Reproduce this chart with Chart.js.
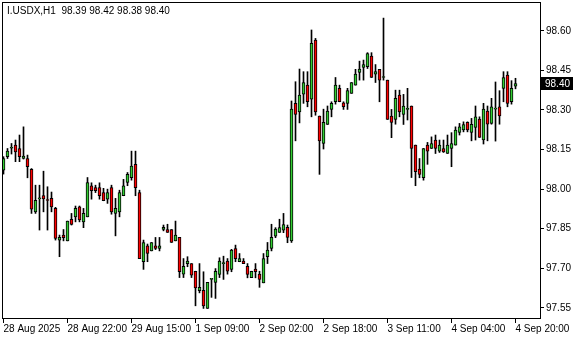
<!DOCTYPE html>
<html>
<head>
<meta charset="utf-8">
<script src="https://cdn.jsdelivr.net/npm/chart.js@4.4.1/dist/chart.umd.min.js"></script>
<style>
  html, body { margin: 0; padding: 0; background: #fff; }
  #wrap { width: 580px; height: 340px; }
</style>
</head>
<body>
<div id="wrap"><canvas id="chart" width="580" height="340"></canvas></div>
<script>
// I.USDX H1 bars, 28 Aug 2025 -> 4 Sep 20:00
const symbolTitle = 'I.USDX,H1';
const tickLabels = ['28 Aug 2025', '28 Aug 22:00', '29 Aug 15:00', '1 Sep 09:00', '2 Sep 02:00',
                    '2 Sep 18:00', '3 Sep 11:00', '4 Sep 04:00', '4 Sep 20:00'];
const tickEvery = 16;
const yTicks = [97.55, 97.70, 97.85, 98.00, 98.15, 98.30, 98.45, 98.60];

const opens = [
  98.072, 98.123, 98.155, 98.167, 98.154, 98.116, 98.116, 98.075, 97.914, 97.963,
  97.976, 97.958, 97.965, 97.927, 97.807, 97.826, 97.804, 97.886, 97.895, 97.933,
  97.876, 97.895, 98.013, 98.006, 98.006, 97.987, 97.962, 98.006, 97.908, 97.914,
  97.975, 98.025, 98.043, 98.094, 97.987, 97.725, 97.785, 97.766, 97.785, 97.775,
  97.847, 97.847, 97.847, 97.804, 97.817, 97.678, 97.718, 97.718, 97.689, 97.615,
  97.617, 97.548, 97.658, 97.647, 97.677, 97.718, 97.727, 97.696, 97.775, 97.725,
  97.727, 97.708, 97.665, 97.697, 97.678, 97.645, 97.744, 97.775, 97.822, 97.836,
  97.845, 97.855, 97.804, 98.325, 98.293, 98.360, 98.394, 98.341, 98.565, 98.277,
  98.173, 98.245, 98.302, 98.331, 98.382, 98.327, 98.325, 98.363, 98.394, 98.442,
  98.461, 98.464, 98.504, 98.436, 98.454, 98.423, 98.413, 98.277, 98.264, 98.356,
  98.283, 98.302, 98.315, 98.167, 98.076, 98.043, 98.167, 98.154, 98.186, 98.144,
  98.154, 98.135, 98.154, 98.167, 98.215, 98.224, 98.253, 98.215, 98.234, 98.265,
  98.186, 98.296, 98.249, 98.303, 98.312, 98.382, 98.432, 98.331, 98.390
];
const highs = [
  98.123, 98.154, 98.173, 98.186, 98.205, 98.236, 98.129, 98.078, 98.015, 98.015,
  98.068, 98.009, 97.989, 97.931, 97.826, 97.847, 97.879, 97.908, 97.936, 97.936,
  97.927, 98.044, 98.024, 98.015, 98.024, 98.003, 98.000, 98.015, 97.965, 97.996,
  98.037, 98.063, 98.144, 98.144, 97.996, 97.807, 97.792, 97.798, 97.817, 97.817,
  97.864, 97.867, 97.847, 97.879, 97.817, 97.737, 97.744, 97.718, 97.689, 97.718,
  97.687, 97.647, 97.659, 97.699, 97.740, 97.746, 97.737, 97.772, 97.788, 97.756,
  97.737, 97.718, 97.689, 97.718, 97.689, 97.756, 97.798, 97.867, 97.854, 97.886,
  97.908, 97.864, 98.334, 98.407, 98.455, 98.445, 98.445, 98.603, 98.571, 98.277,
  98.303, 98.315, 98.331, 98.423, 98.394, 98.331, 98.382, 98.404, 98.454, 98.485,
  98.489, 98.517, 98.517, 98.472, 98.454, 98.648, 98.413, 98.302, 98.375, 98.375,
  98.359, 98.382, 98.315, 98.167, 98.116, 98.154, 98.177, 98.198, 98.205, 98.186,
  98.186, 98.205, 98.214, 98.236, 98.249, 98.255, 98.255, 98.268, 98.315, 98.274,
  98.325, 98.315, 98.344, 98.406, 98.373, 98.445, 98.445, 98.411, 98.420
];
const lows = [
  98.057, 98.116, 98.133, 98.104, 98.104, 98.114, 98.043, 97.908, 97.908, 97.845,
  97.914, 97.845, 97.914, 97.807, 97.744, 97.804, 97.804, 97.864, 97.876, 97.876,
  97.854, 97.895, 97.962, 97.987, 97.962, 97.956, 97.946, 97.905, 97.823, 97.895,
  97.975, 98.013, 98.034, 97.975, 97.737, 97.696, 97.725, 97.766, 97.771, 97.766,
  97.842, 97.836, 97.798, 97.804, 97.665, 97.665, 97.706, 97.665, 97.558, 97.607,
  97.548, 97.548, 97.590, 97.586, 97.665, 97.658, 97.678, 97.687, 97.725, 97.725,
  97.718, 97.664, 97.665, 97.664, 97.628, 97.645, 97.718, 97.766, 97.816, 97.836,
  97.835, 97.797, 97.798, 98.183, 98.251, 98.325, 98.312, 98.274, 98.280, 98.056,
  98.152, 98.245, 98.274, 98.322, 98.331, 98.302, 98.302, 98.363, 98.394, 98.413,
  98.413, 98.457, 98.423, 98.404, 98.331, 98.413, 98.264, 98.195, 98.246, 98.274,
  98.245, 98.262, 98.044, 98.013, 98.043, 98.034, 98.094, 98.154, 98.135, 98.139,
  98.139, 98.135, 98.085, 98.167, 98.205, 98.217, 98.217, 98.183, 98.186, 98.196,
  98.171, 98.183, 98.246, 98.182, 98.246, 98.331, 98.312, 98.322, 98.380
];
const closes = [
  98.116, 98.144, 98.158, 98.141, 98.123, 98.125, 98.085, 97.924, 97.958, 97.966,
  97.963, 97.957, 97.933, 97.813, 97.817, 97.816, 97.879, 97.866, 97.927, 97.883,
  97.908, 98.025, 97.994, 97.994, 97.975, 97.956, 97.987, 97.914, 97.927, 97.987,
  98.013, 98.056, 98.087, 98.006, 97.737, 97.798, 97.756, 97.798, 97.775, 97.785,
  97.855, 97.836, 97.798, 97.826, 97.687, 97.708, 97.727, 97.674, 97.626, 97.628,
  97.558, 97.647, 97.658, 97.689, 97.727, 97.718, 97.689, 97.769, 97.737, 97.737,
  97.718, 97.677, 97.689, 97.687, 97.658, 97.737, 97.769, 97.817, 97.849, 97.854,
  97.866, 97.817, 98.303, 98.283, 98.356, 98.404, 98.331, 98.552, 98.293, 98.183,
  98.253, 98.296, 98.325, 98.394, 98.331, 98.312, 98.373, 98.404, 98.436, 98.455,
  98.472, 98.514, 98.423, 98.445, 98.413, 98.423, 98.264, 98.253, 98.344, 98.293,
  98.315, 98.302, 98.154, 98.066, 98.056, 98.154, 98.144, 98.173, 98.154, 98.167,
  98.141, 98.167, 98.173, 98.224, 98.236, 98.245, 98.224, 98.246, 98.274, 98.196,
  98.303, 98.246, 98.312, 98.303, 98.277, 98.423, 98.325, 98.382, 98.400
];

const BULL = '#32cd32';
const BEAR = '#ff0000';
const FONT = { family: 'Liberation Sans', size: 10 };

const bodies = opens.map((o, i) => ({ x: i, y: [o, closes[i]] }));
const wicks = lows.map((l, i) => ({ x: i, y: [l, highs[i]] }));
const bodyColors = opens.map((o, i) => closes[i] >= o ? BULL : BEAR);

// frame, header text and current price box
const frame = {
    id: 'frame',
    afterDraw(chart) {
        const { ctx, chartArea: a, scales } = chart;
        ctx.save();
        ctx.strokeStyle = '#000';
        ctx.lineWidth = 1;
        ctx.strokeRect(a.left + 0.5, a.top + 0.5, a.right - a.left - 1, a.bottom - a.top - 1);

        ctx.font = '10px "Liberation Sans"';
        ctx.textBaseline = 'middle';
        ctx.fillStyle = '#000';
        const last = closes.length - 1;
        const head = symbolTitle + '  ' + [opens[last], highs[last], lows[last], closes[last]].map(v => v.toFixed(2)).join(' ');
        ctx.fillText(head, 7, 11);

        const py = Math.round(scales.y.getPixelForValue(closes[last]));
        ctx.fillRect(a.right - 1, py - 7, 33, 13);
        ctx.fillStyle = '#fff';
        ctx.fillText(closes[last].toFixed(2), a.right + 4, py);
        ctx.restore();
    }
};

new Chart(document.getElementById('chart'), {
    type: 'bar',
    data: {
        datasets: [
            {
                label: 'body',
                data: bodies,
                backgroundColor: bodyColors,
                borderColor: '#000',
                borderWidth: 1,
                borderSkipped: false,
                barThickness: 3,
                minBarLength: 1,
                grouped: false
            },
            {
                label: 'wick',
                data: wicks,
                backgroundColor: '#000',
                borderWidth: 0,
                barThickness: 1,
                grouped: false
            }
        ]
    },
    options: {
        responsive: false,
        animation: false,
        devicePixelRatio: 1,
        layout: { padding: { left: 2, top: 2, right: 0, bottom: 0 } },
        plugins: { legend: { display: false }, tooltip: { enabled: false } },
        scales: {
            x: {
                type: 'linear',
                min: -0.375,
                max: 134.375,
                offset: false,
                grid: { display: true, drawOnChartArea: false, drawTicks: true, tickLength: 4, color: '#000', offset: false },
                border: { display: false },
                afterBuildTicks: s => { s.ticks = tickLabels.map((t, k) => ({ value: k * tickEvery })); },
                afterFit: s => { s.height = 21; s.paddingLeft = 0; s.paddingRight = 0; },
                ticks: {
                    autoSkip: false,
                    maxRotation: 0,
                    align: 'start',
                    padding: 0,
                    color: '#000',
                    font: FONT,
                    callback: v => tickLabels[Math.round(v / tickEvery)]
                }
            },
            y: {
                position: 'right',
                min: 97.508,
                max: 98.709,
                grid: { display: true, drawOnChartArea: false, drawTicks: true, tickLength: 3, color: '#000' },
                border: { display: false },
                afterBuildTicks: s => { s.ticks = yTicks.map(v => ({ value: v })); },
                afterFit: s => { s.width = 39; s.paddingTop = 0; s.paddingBottom = 0; },
                ticks: {
                    padding: 2,
                    color: '#000',
                    font: FONT,
                    callback: v => v.toFixed(2)
                }
            }
        }
    },
    plugins: [frame]
});
</script>
</body>
</html>
